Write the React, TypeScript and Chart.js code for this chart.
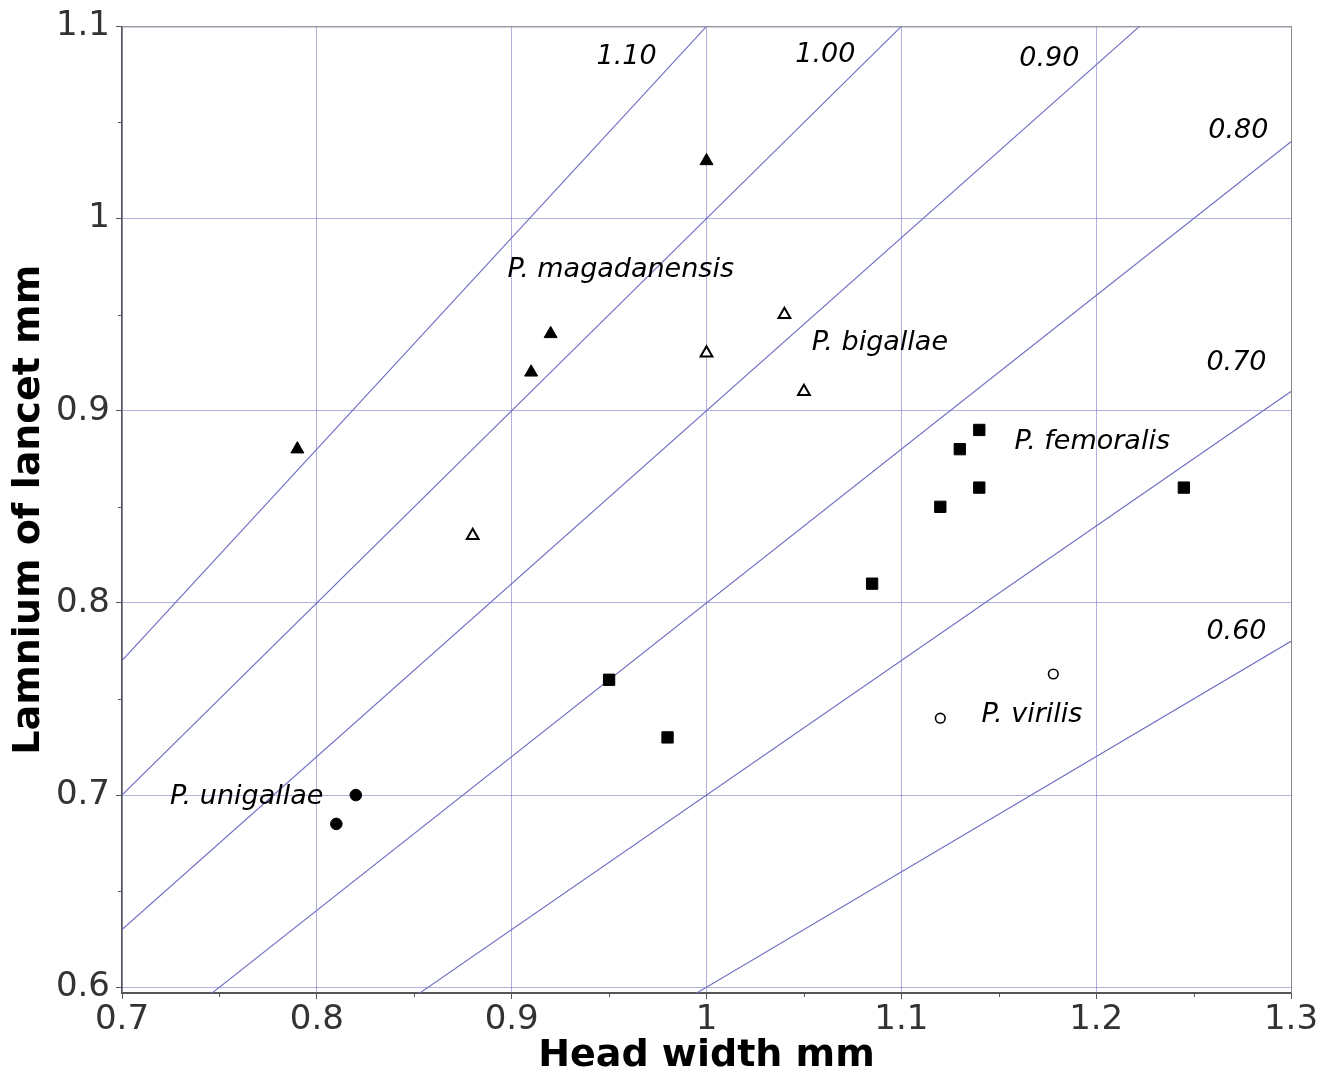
import { useEffect, useRef } from 'react';
import { Chart, registerables } from 'chart.js';

Chart.register(...registerables);

// ---- axis ticks ----
const xMajorTicks = [0.7, 0.8, 0.9, 1.0, 1.1, 1.2, 1.3];
const yMajorTicks = [0.6, 0.7, 0.8, 0.9, 1.0, 1.1];
const xMinorTicks = [0.75, 0.85, 0.95, 1.05, 1.15, 1.25];
const yMinorTicks = [0.65, 0.75, 0.85, 0.95, 1.05];

// ---- ratio reference lines (lancet / head width) ----
const ratios = [1.1, 1.0, 0.9, 0.8, 0.7, 0.6];
const ratioLabels = ['1.10', '1.00', '0.90', '0.80', '0.70', '0.60'];
const ratioLabelX = [0.959, 1.061, 1.176, 1.273, 1.272, 1.272];
const ratioLabelY = [1.084, 1.085, 1.083, 1.0455, 0.925, 0.785];

// ---- species data (head width, lancet) ----
const magadanensisX = [0.79, 0.91, 0.92, 1.0];
const magadanensisY = [0.88, 0.92, 0.94, 1.03];
const bigallaeX = [0.88, 1.0, 1.04, 1.05];
const bigallaeY = [0.835, 0.93, 0.95, 0.91];
const femoralisX = [0.95, 0.98, 1.085, 1.12, 1.13, 1.14, 1.14, 1.245];
const femoralisY = [0.76, 0.73, 0.81, 0.85, 0.88, 0.89, 0.86, 0.86];
const unigallaeX = [0.81, 0.82];
const unigallaeY = [0.685, 0.70];
const virilisX = [1.12, 1.178];
const virilisY = [0.74, 0.763];

// ---- species labels ----
const speciesNames = ['P. magadanensis', 'P. bigallae', 'P. femoralis', 'P. virilis', 'P. unigallae'];
const speciesLabelX = [0.956, 1.089, 1.198, 1.167, 0.764];
const speciesLabelY = [0.973, 0.935, 0.8837, 0.7416, 0.699];

const X_MIN = 0.7;
const X_MAX = 1.3;
const Y_MIN = 0.597;
const Y_MAX = 1.1;

const FONT = '"DejaVu Sans", "Liberation Sans", sans-serif';

const zip = (xs: number[], ys: number[]) => xs.map((x, i) => ({ x, y: ys[i] }));

const fmt = (v: number) => String(Number(v.toFixed(2)));

export default function App() {
  const ref = useRef<HTMLCanvasElement | null>(null);

  useEffect(() => {
    if (!ref.current) return;

    const extras = {
      id: 'extras',
      afterDatasetsDraw(chart: any) {
        const { ctx, chartArea } = chart;
        const xs = chart.scales.x;
        const ys = chart.scales.y;
        ctx.save();
        // top & right frame
        ctx.strokeStyle = '#8a8a8a';
        ctx.lineWidth = 1;
        ctx.beginPath();
        ctx.moveTo(chartArea.left, chartArea.top + 0.5);
        ctx.lineTo(chartArea.right + 0.5, chartArea.top + 0.5);
        ctx.lineTo(chartArea.right + 0.5, chartArea.bottom);
        ctx.stroke();
        // minor ticks
        ctx.strokeStyle = '#555';
        ctx.lineWidth = 1;
        ctx.beginPath();
        xMinorTicks.forEach((v) => {
          const px = Math.round(xs.getPixelForValue(v)) + 0.5;
          ctx.moveTo(px, chartArea.bottom);
          ctx.lineTo(px, chartArea.bottom + 4);
        });
        yMinorTicks.forEach((v) => {
          const py = Math.round(ys.getPixelForValue(v)) + 0.5;
          ctx.moveTo(chartArea.left - 4, py);
          ctx.lineTo(chartArea.left, py);
        });
        ctx.stroke();
        // texts
        ctx.fillStyle = '#000';
        ctx.textAlign = 'center';
        ctx.textBaseline = 'middle';
        ctx.font = `italic 27px ${FONT}`;
        ratioLabels.forEach((t, i) => {
          ctx.fillText(t, xs.getPixelForValue(ratioLabelX[i]), ys.getPixelForValue(ratioLabelY[i]));
        });
        speciesNames.forEach((t, i) => {
          ctx.fillText(t, xs.getPixelForValue(speciesLabelX[i]), ys.getPixelForValue(speciesLabelY[i]));
        });
        ctx.restore();
      },
    };

    const lineDatasets = ratios.map((r) => ({
      type: 'line' as const,
      data: [
        { x: X_MIN, y: X_MIN * r },
        { x: X_MAX, y: X_MAX * r },
      ],
      showLine: true,
      borderColor: 'rgb(110,110,195)',
      borderWidth: 1.1,
      pointRadius: 0,
      fill: false,
    }));

    const gridColor = 'rgb(100,100,190)';

    const chart = new Chart(ref.current, {
      type: 'scatter',
      data: {
        datasets: [
          {
            data: zip(magadanensisX, magadanensisY),
            pointStyle: 'triangle',
            pointRadius: 7.5,
            backgroundColor: '#000',
            borderColor: '#000',
            borderWidth: 1,
          },
          {
            data: zip(bigallaeX, bigallaeY),
            pointStyle: 'triangle',
            pointRadius: 6.8,
            backgroundColor: '#fff',
            borderColor: '#000',
            borderWidth: 2,
          },
          {
            data: zip(femoralisX, femoralisY),
            pointStyle: 'rect',
            pointRadius: 8,
            backgroundColor: '#000',
            borderColor: '#000',
            borderWidth: 1,
          },
          {
            data: zip(unigallaeX, unigallaeY),
            pointStyle: 'circle',
            pointRadius: 5.8,
            backgroundColor: '#000',
            borderColor: '#000',
            borderWidth: 1,
          },
          {
            data: zip(virilisX, virilisY),
            pointStyle: 'circle',
            pointRadius: 4.8,
            backgroundColor: '#fff',
            borderColor: '#000',
            borderWidth: 1.6,
          },
          ...lineDatasets,
        ] as any,
      },
      options: {
        animation: false,
        responsive: false,
        events: [],
        layout: { padding: { top: 23, right: 44, left: 0, bottom: 0 } },
        plugins: {
          legend: { display: false },
          tooltip: { enabled: false },
        },
        scales: {
          x: {
            type: 'linear',
            min: X_MIN,
            max: X_MAX,
            afterFit: (s: any) => {
              s.height = 82;
            },
            afterBuildTicks: (s: any) => {
              s.ticks = xMajorTicks.map((v) => ({ value: v }));
            },
            ticks: {
              callback: (v: any) => fmt(Number(v)),
              color: '#333',
              font: { family: FONT, size: 34 },
              padding: 1,
              maxRotation: 0,
              autoSkip: false,
            },
            grid: {
              color: gridColor,
              lineWidth: 1,
              tickColor: '#555',
              tickLength: 6,
            },
            border: { display: true, color: '#555', width: 2, dash: [1, 1] },
            title: {
              display: true,
              text: 'Head width mm',
              color: '#000',
              font: { family: FONT, size: 38, weight: 'bold', lineHeight: 1 },
              padding: { top: 0, bottom: 0 },
            },
          },
          y: {
            type: 'linear',
            min: Y_MIN,
            max: Y_MAX,
            afterFit: (s: any) => {
              s.width = 122;
            },
            afterBuildTicks: (s: any) => {
              s.ticks = yMajorTicks.map((v) => ({ value: v }));
            },
            ticks: {
              callback: (v: any) => fmt(Number(v)),
              color: '#333',
              font: { family: FONT, size: 34 },
              padding: 6,
              autoSkip: false,
            },
            grid: {
              color: gridColor,
              lineWidth: 1,
              tickColor: '#555',
              tickLength: 6,
            },
            border: { display: true, color: '#555', width: 1.5, dash: [1, 1] },
            title: {
              display: true,
              text: 'Lamnium of lancet mm',
              color: '#000',
              font: { family: FONT, size: 38, weight: 'bold', lineHeight: 1 },
              padding: { top: 10, bottom: 0 },
            },
          },
        },
      } as any,
      plugins: [extras],
    });

    return () => chart.destroy();
  }, []);

  return (
    <canvas
      ref={ref}
      width={1335}
      height={1075}
      style={{ position: 'absolute', left: 0, top: 0, width: 1335, height: 1075, background: '#fff' }}
    />
  );
}
